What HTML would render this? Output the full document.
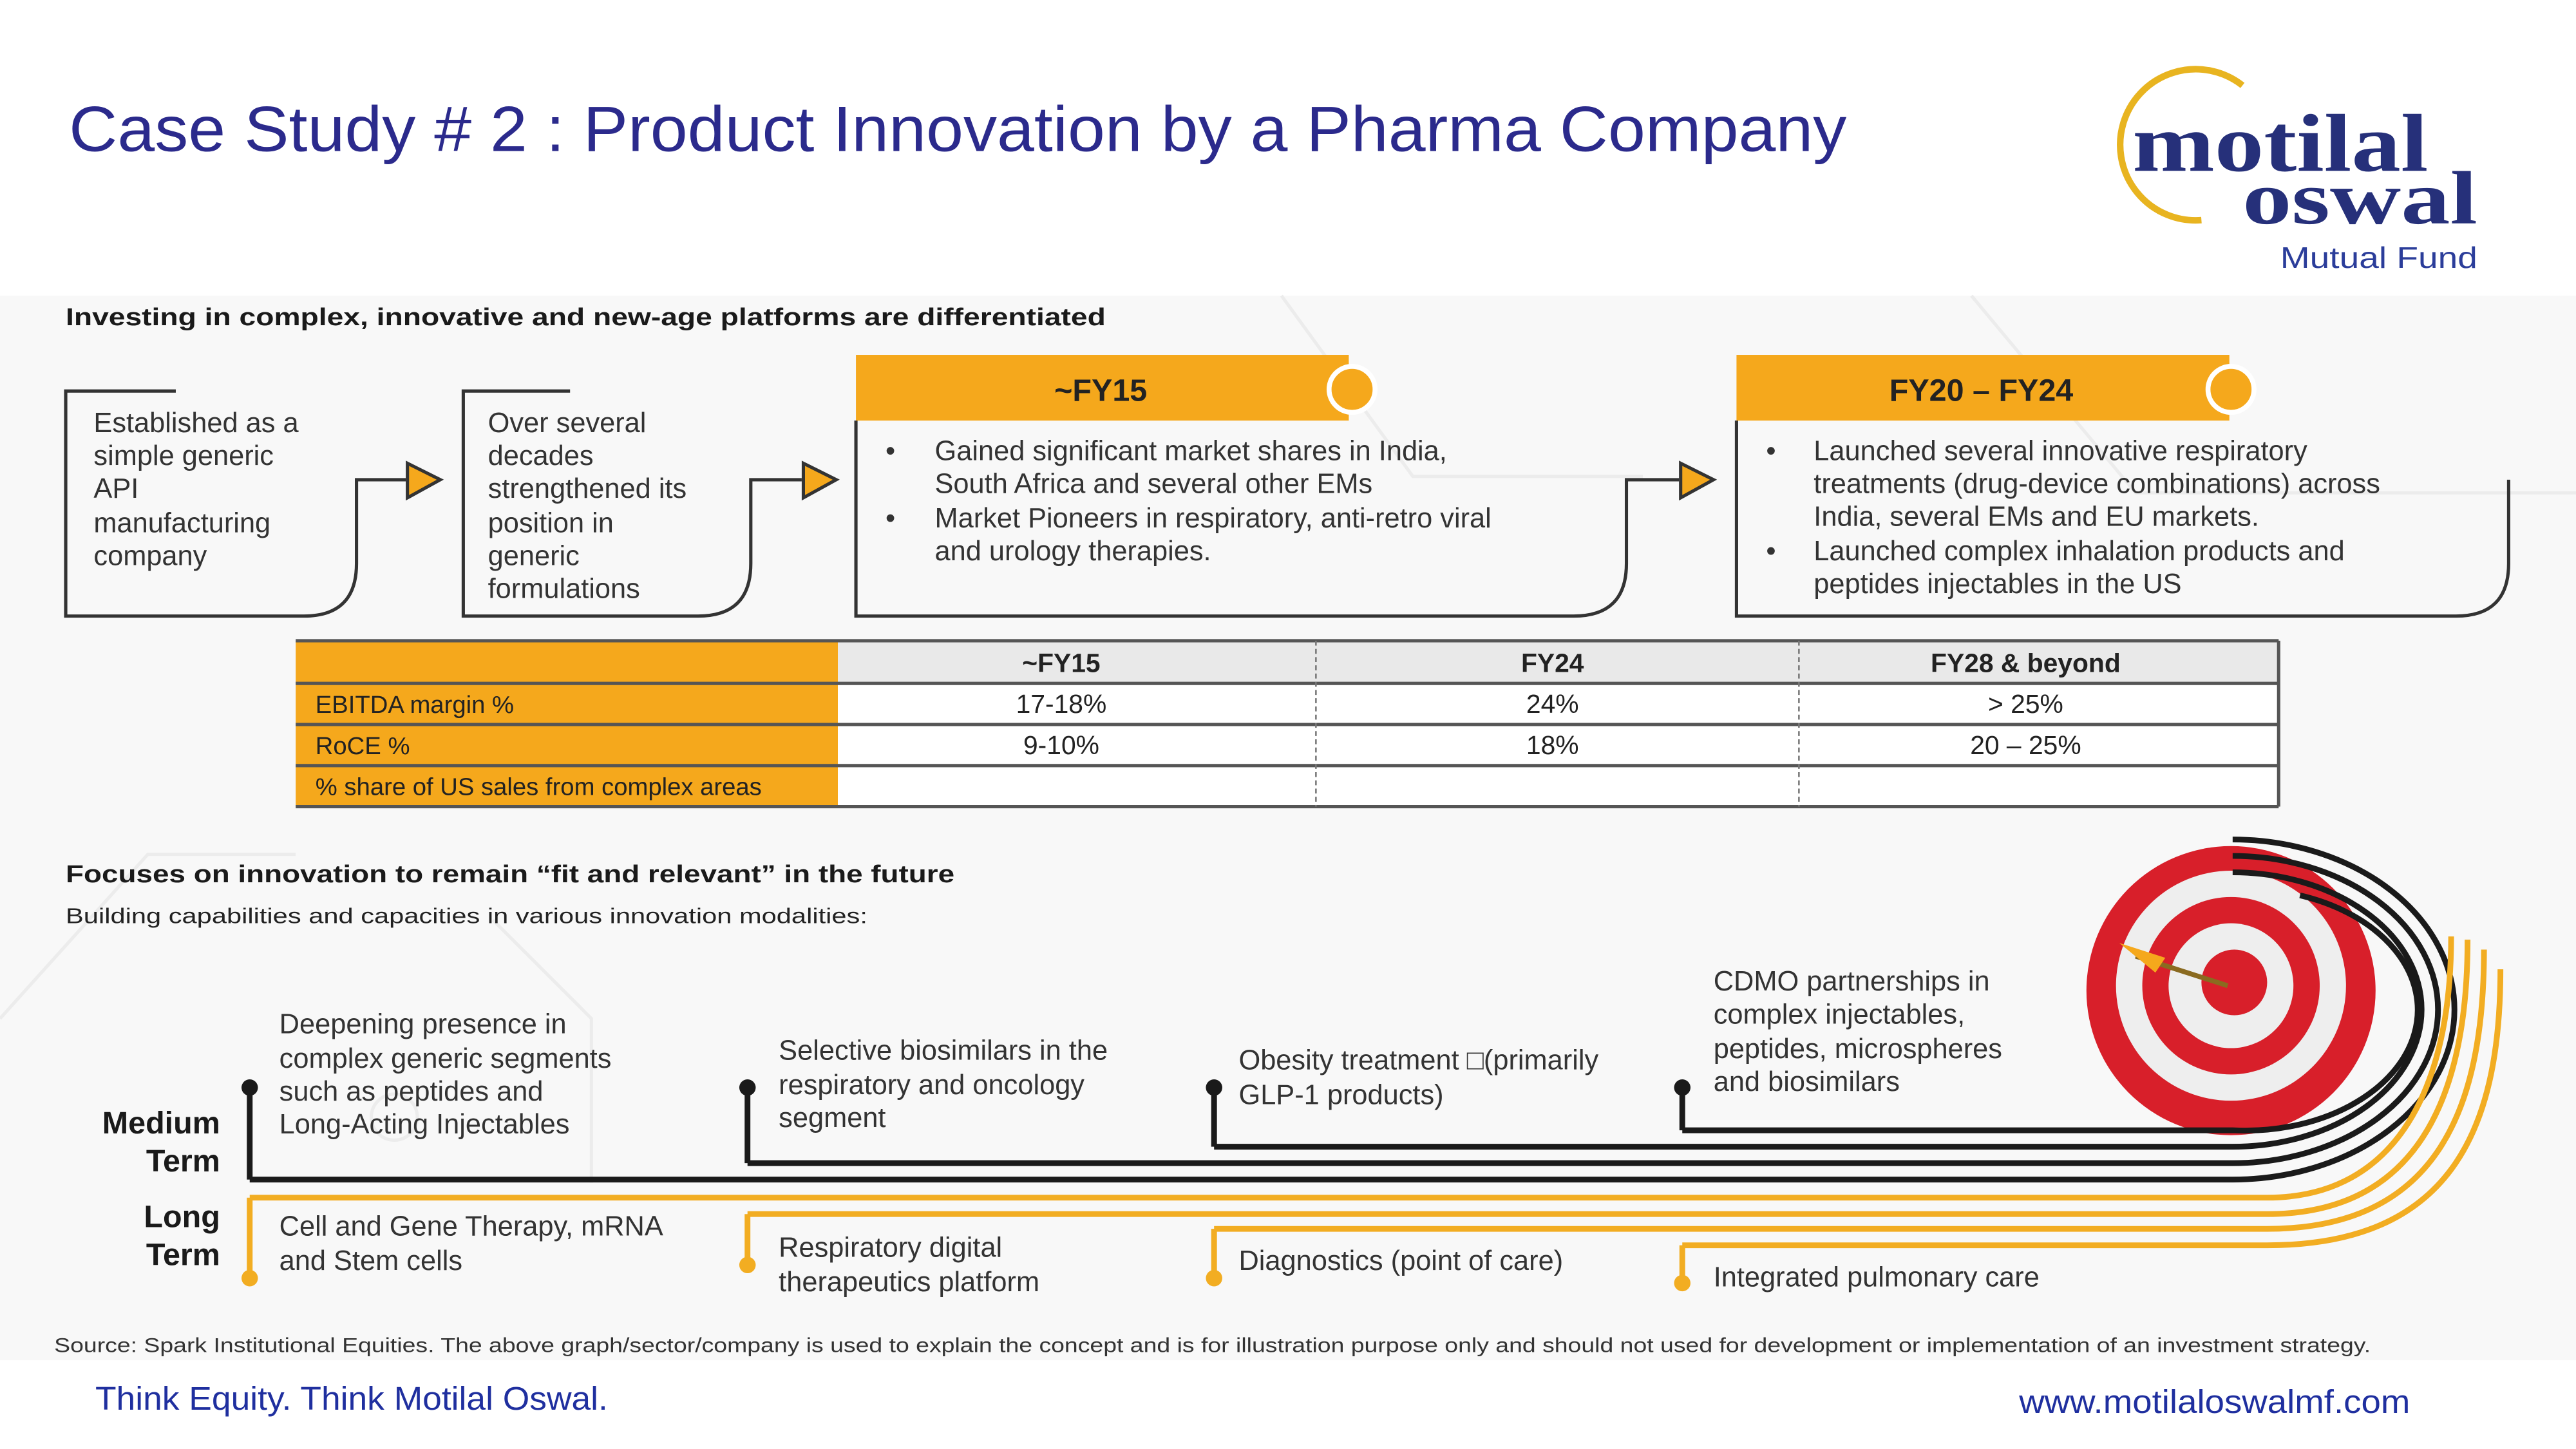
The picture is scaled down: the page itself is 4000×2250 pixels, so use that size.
<!DOCTYPE html>
<html><head><meta charset="utf-8"><style>
html,body{margin:0;padding:0;background:#fff;}
svg{display:block;}
text{font-family:"Liberation Sans",Arial,sans-serif;}
</style></head><body>
<svg width="4000" height="2250" viewBox="0 0 1568 882" preserveAspectRatio="none" xmlns="http://www.w3.org/2000/svg">
<rect width="1568" height="882" fill="#fff"/>
<rect x="0" y="180" width="1568" height="648" fill="#f8f8f8"/>
<g stroke="#ececec" stroke-width="2" fill="none">
<path d="M780 180 L860 290 L1000 290"/><path d="M1200 180 L1300 300 L1568 300"/>
<path d="M0 620 L90 520 L180 520"/><path d="M300 560 L360 620 L360 720"/>
<circle cx="240" cy="680" r="14"/>
</g>

<text x="42" y="92" font-size="39" fill="#2b2a8c" textLength="1082" lengthAdjust="spacingAndGlyphs">Case Study # 2 : Product Innovation by a Pharma Company</text>

<!-- Logo -->
<path d="M1365 52 A46 46 0 1 0 1340 134" fill="none" stroke="#e8b420" stroke-width="4"/>
<text x="1298" y="104" style="font-family:'Liberation Serif',serif" font-weight="bold" font-size="50" fill="#26307a" textLength="180" lengthAdjust="spacingAndGlyphs">motilal</text>
<text x="1365" y="136" style="font-family:'Liberation Serif',serif" font-weight="bold" font-size="46" fill="#26307a" textLength="143" lengthAdjust="spacingAndGlyphs">oswal</text>
<text x="1388" y="163" font-size="18" fill="#2b3d9a" textLength="120" lengthAdjust="spacingAndGlyphs">Mutual Fund</text>

<text x="40" y="198" font-size="15" font-weight="bold" fill="#1a1a1a" textLength="633" lengthAdjust="spacingAndGlyphs">Investing in complex, innovative and new-age platforms are  differentiated</text>

<g fill="none" stroke="#333" stroke-width="2">
<path d="M107 238 H40 V375 H185 Q217 375 217 343 V292 H247"/>
<path d="M347 238 H282 V375 H425 Q457 375 457 343 V292 H488"/>
<path d="M521 256 V375 H958 Q990 375 990 343 V292 H1022"/>
<path d="M1057 256 V375 H1495 Q1527 375 1527 343 V292"/>
</g>
<g fill="#f5a81c" stroke="#333" stroke-width="2">
<path d="M248 282 L268 292 L248 303 Z"/>
<path d="M489 282 L509 292 L489 303 Z"/>
<path d="M1023 282 L1043 292 L1023 303 Z"/>
</g>
<text font-size="17" fill="#333">
<tspan x="57" y="263">Established as a</tspan><tspan x="57" y="283">simple generic</tspan><tspan x="57" y="303">API</tspan><tspan x="57" y="324">manufacturing</tspan><tspan x="57" y="344">company</tspan>
</text>
<text font-size="17" fill="#333">
<tspan x="297" y="263">Over several</tspan><tspan x="297" y="283">decades</tspan><tspan x="297" y="303">strengthened its</tspan><tspan x="297" y="324">position in</tspan><tspan x="297" y="344">generic</tspan><tspan x="297" y="364">formulations</tspan>
</text>
<rect x="521" y="216" width="300" height="40" fill="#f5a81c"/>
<circle cx="823" cy="237" r="14" fill="#f5a81c" stroke="#fff" stroke-width="3"/>
<text x="670" y="244" font-size="19" font-weight="bold" fill="#222" text-anchor="middle">~FY15</text>
<text font-size="17" fill="#333">
<tspan x="539" y="280">•</tspan><tspan x="569" y="280">Gained significant market shares in India,</tspan>
<tspan x="569" y="300">South Africa and several other EMs</tspan>
<tspan x="539" y="321">•</tspan><tspan x="569" y="321">Market Pioneers in respiratory, anti-retro viral</tspan>
<tspan x="569" y="341">and urology therapies.</tspan>
</text>
<rect x="1057" y="216" width="300" height="40" fill="#f5a81c"/>
<circle cx="1358" cy="237" r="14" fill="#f5a81c" stroke="#fff" stroke-width="3"/>
<text x="1206" y="244" font-size="19" font-weight="bold" fill="#222" text-anchor="middle">FY20 – FY24</text>
<text font-size="17" fill="#333">
<tspan x="1075" y="280">•</tspan><tspan x="1104" y="280">Launched several innovative respiratory</tspan>
<tspan x="1104" y="300">treatments (drug-device combinations) across</tspan>
<tspan x="1104" y="320">India, several EMs and EU markets.</tspan>
<tspan x="1075" y="341">•</tspan><tspan x="1104" y="341">Launched complex inhalation products and</tspan>
<tspan x="1104" y="361">peptides injectables in the US</tspan>
</text>

<rect x="180" y="390" width="330" height="101" fill="#f5a81c"/>
<rect x="510" y="390" width="877" height="26" fill="#e9e9e9"/>
<rect x="510" y="416" width="877" height="75" fill="#fff"/>
<g stroke="#555" stroke-width="2">
<line x1="180" y1="390" x2="1387" y2="390"/>
<line x1="180" y1="416" x2="1387" y2="416"/>
<line x1="180" y1="441" x2="1387" y2="441"/>
<line x1="180" y1="466" x2="1387" y2="466"/>
<line x1="180" y1="491" x2="1387" y2="491"/>
<line x1="1387" y1="390" x2="1387" y2="491"/>
</g>
<g stroke="#777" stroke-width="1" stroke-dasharray="3 2">
<line x1="801" y1="390" x2="801" y2="491"/><line x1="1095" y1="390" x2="1095" y2="491"/>
</g>
<g font-size="15" fill="#222">
<text x="192" y="434">EBITDA margin %</text>
<text x="192" y="459">RoCE %</text>
<text x="192" y="484">% share of US sales from complex areas</text>
</g>
<g font-size="16" fill="#222" text-anchor="middle">
<text x="646" y="409" font-weight="bold">~FY15</text><text x="945" y="409" font-weight="bold">FY24</text><text x="1233" y="409" font-weight="bold">FY28 &amp; beyond</text>
<text x="646" y="434">17-18%</text><text x="945" y="434">24%</text><text x="1233" y="434">&gt; 25%</text>
<text x="646" y="459">9-10%</text><text x="945" y="459">18%</text><text x="1233" y="459">20 – 25%</text>
</g>

<text x="40" y="537" font-size="15" font-weight="bold" fill="#1a1a1a" textLength="541" lengthAdjust="spacingAndGlyphs">Focuses on innovation to remain “fit and relevant” in the future</text>
<text x="40" y="562" font-size="13" fill="#222" textLength="488" lengthAdjust="spacingAndGlyphs">Building capabilities and capacities in various innovation modalities:</text>

<g font-size="19" font-weight="bold" fill="#1a1a1a" text-anchor="end">
<text x="134" y="690">Medium</text><text x="134" y="713">Term</text>
<text x="134" y="747">Long</text><text x="134" y="770">Term</text>
</g>

<!-- Target -->
<circle cx="1358" cy="603" r="88" fill="#d81f2a"/>
<path d="M1272 620 A88 88 0 0 0 1444 620 A88 88 0 0 1 1272 620Z" fill="#9e1520"/>
<circle cx="1358" cy="600" r="70" fill="#eee"/>
<circle cx="1358" cy="600" r="54" fill="#d81f2a"/>
<circle cx="1358" cy="600" r="38" fill="#eee"/>
<circle cx="1360" cy="598" r="20" fill="#d81f2a"/>
<line x1="1300" y1="582" x2="1356" y2="600" stroke="#8a6a20" stroke-width="3"/>
<path d="M1290 574 L1318 583 L1312 592 Z" fill="#f5a81c"/>

<g fill="none" stroke-width="3.5">
<path d="M152 718 V662 M152 718 H1359 A135 103.5 0 0 0 1359 511" stroke="#1a1a1a"/>
<path d="M455 708 V662 M455 708 H1359 A125 93.5 0 0 0 1359 521" stroke="#1a1a1a"/>
<path d="M739 698 V662 M739 698 H1359 A115 83.5 0 0 0 1359 531" stroke="#1a1a1a"/>
<path d="M1024 688 V662 M1024 688 H1359 A105 73.5 0 0 0 1400 545" stroke="#1a1a1a"/>
<path d="M152 729 V778 M152 729 H1380 C1460 729 1492 660 1492 570" stroke="#f2ad22"/>
<path d="M455 739 V770 M455 739 H1380 C1470 739 1502 670 1502 572" stroke="#f2ad22"/>
<path d="M739 748 V778 M739 748 H1380 C1480 748 1512 680 1512 578" stroke="#f2ad22"/>
<path d="M1024 758 V781 M1024 758 H1380 C1490 758 1522 690 1522 590" stroke="#f2ad22"/>
</g>
<g fill="#1a1a1a"><circle cx="152" cy="662" r="5"/><circle cx="455" cy="662" r="5"/><circle cx="739" cy="662" r="5"/><circle cx="1024" cy="662" r="5"/></g>
<g fill="#f2ad22"><circle cx="152" cy="778" r="5"/><circle cx="455" cy="770" r="5"/><circle cx="739" cy="778" r="5"/><circle cx="1024" cy="781" r="5"/></g>

<g font-size="17" fill="#333">
<text><tspan x="170" y="629">Deepening presence in</tspan><tspan x="170" y="650">complex generic segments</tspan><tspan x="170" y="670">such as peptides and</tspan><tspan x="170" y="690">Long-Acting Injectables</tspan></text>
<text><tspan x="474" y="645">Selective biosimilars in the</tspan><tspan x="474" y="666">respiratory and oncology</tspan><tspan x="474" y="686">segment</tspan></text>
<text><tspan x="754" y="651">Obesity treatment □(primarily</tspan><tspan x="754" y="672">GLP-1 products)</tspan></text>
<text><tspan x="1043" y="603">CDMO partnerships in</tspan><tspan x="1043" y="623">complex injectables,</tspan><tspan x="1043" y="644">peptides, microspheres</tspan><tspan x="1043" y="664">and biosimilars</tspan></text>
<text><tspan x="170" y="752">Cell and Gene Therapy, mRNA</tspan><tspan x="170" y="773">and Stem cells</tspan></text>
<text><tspan x="474" y="765">Respiratory digital</tspan><tspan x="474" y="786">therapeutics platform</tspan></text>
<text x="754" y="773">Diagnostics (point of care)</text>
<text x="1043" y="783">Integrated pulmonary care</text>
</g>

<text x="33" y="823" font-size="12.5" fill="#333" textLength="1410" lengthAdjust="spacingAndGlyphs">Source: Spark Institutional Equities. The above graph/sector/company is used to explain the concept and is for illustration purpose only and should not used for development or implementation of an investment strategy.</text>

<text x="58" y="858" font-size="20" fill="#1f2f9f" textLength="312" lengthAdjust="spacingAndGlyphs">Think Equity. Think Motilal Oswal.</text>
<text x="1229" y="860" font-size="20" fill="#1f2f9f" textLength="238" lengthAdjust="spacingAndGlyphs">www.motilaloswalmf.com</text>
</svg>
</body></html>
